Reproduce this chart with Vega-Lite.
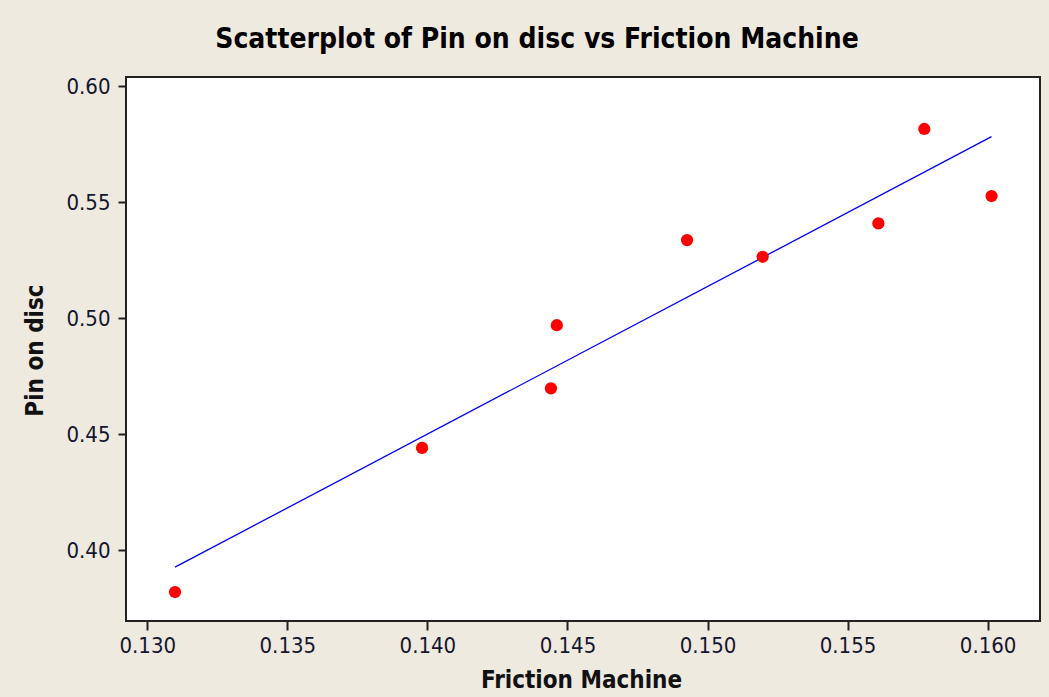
{
  "$schema": "https://vega.github.io/schema/vega-lite/v6.json",
  "autosize": {"type": "none"},
  "width": 914,
  "height": 544,
  "padding": {"left": 126, "top": 77, "right": 9, "bottom": 76},
  "background": "#EEEAE0",
  "title": {
    "text": "Scatterplot of Pin on disc vs Friction Machine",
    "font": "DejaVu Sans Condensed, DejaVu Sans",
    "fontSize": 28,
    "fontWeight": "bold",
    "color": "#000000",
    "anchor": "middle",
    "frame": "group",
    "dx": -46,
    "dy": 28,
    "baseline": "alphabetic",
    "offset": 27
  },
  "config": {
    "view": {"fill": "#FFFFFF", "stroke": "#222222", "strokeWidth": 2},
    "axis": {
      "grid": false,
      "domain": false,
      "ticks": true,
      "tickColor": "#222222",
      "tickWidth": 2,
      "labelFont": "DejaVu Sans Condensed, DejaVu Sans",
      "labelFontSize": 22,
      "labelColor": "#15152e",
      "titleFont": "DejaVu Sans Condensed, DejaVu Sans",
      "titleFontSize": 24,
      "titleFontWeight": "bold",
      "titleColor": "#111111"
    }
  },
  "data": {
    "values": [
      {"friction": 0.13099, "pin": 0.3819},
      {"friction": 0.13981, "pin": 0.4440},
      {"friction": 0.14441, "pin": 0.4697},
      {"friction": 0.14462, "pin": 0.4969},
      {"friction": 0.14927, "pin": 0.5336},
      {"friction": 0.15197, "pin": 0.5264},
      {"friction": 0.15610, "pin": 0.5408},
      {"friction": 0.15774, "pin": 0.5815},
      {"friction": 0.16014, "pin": 0.5526}
    ]
  },
  "encoding": {
    "x": {
      "field": "friction",
      "type": "quantitative",
      "title": "Friction Machine",
      "scale": {"domain": [0.12924, 0.16187], "nice": false, "zero": false},
      "axis": {
        "values": [0.130, 0.135, 0.140, 0.145, 0.150, 0.155, 0.160],
        "format": ".3f",
        "tickSize": 9,
        "labelPadding": 5,
        "titleBaseline": "alphabetic",
        "titleX": 455,
        "titleY": 66
      }
    },
    "y": {
      "field": "pin",
      "type": "quantitative",
      "title": "Pin on disc",
      "scale": {"domain": [0.3694, 0.6039], "nice": false, "zero": false},
      "axis": {
        "values": [0.40, 0.45, 0.50, 0.55, 0.60],
        "format": ".2f",
        "tickSize": 8,
        "labelPadding": 8,
        "titleBaseline": "alphabetic",
        "titleAngle": -90,
        "titleAlign": "center",
        "titleX": -84,
        "titleY": 273
      }
    }
  },
  "layer": [
    {
      "transform": [{"regression": "pin", "on": "friction"}],
      "mark": {"type": "line", "color": "#0000FF", "strokeWidth": 1.3}
    },
    {
      "mark": {"type": "circle", "color": "#FF0000", "opacity": 1, "size": 150}
    }
  ]
}
